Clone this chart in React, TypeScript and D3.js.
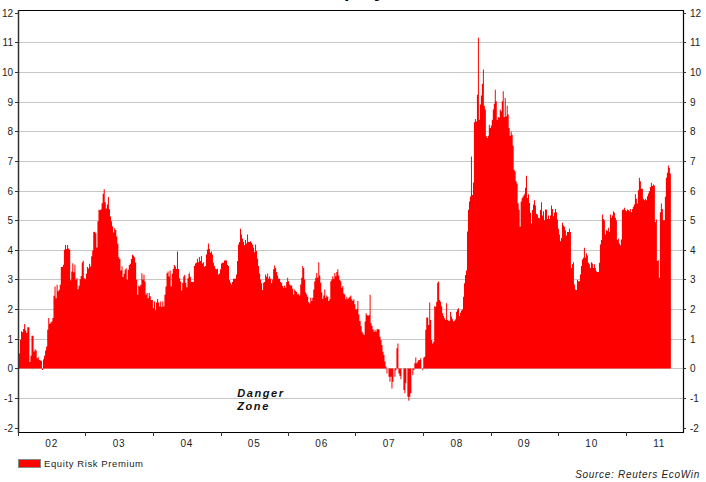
import React from "react";
import * as d3 from "d3";

// ---------------- DATA ----------------
// Equity risk premium observations, in four consecutive stretches.
const segA_range = ["2002-01-06", "2004-07-17"];
const segA_values = [
  0.5, 0.97, 1.25, 1.22, 1.33, 1.5, 1.28, 1.19, 1.39, 1.39,
  0.22, 0.43, 1.1, 1.1, 0.57, 0.65, 0.6, 0.34, 0.38, 0.29,
  0.27, 0.25, -0.05, 0.31, 0.43, 0.6, 0.74, 1.3, 1.7, 1.5,
  1.55, 1.58, 1.7, 2.45, 2.76, 2.37, 2.82, 2.6, 2.65, 2.82,
  3.42, 3.42, 3.5, 4.0, 4.16, 4.03, 4.16, 4.04, 4.0, 2.97,
  3.27, 3.55, 3.24, 3.5, 2.99, 3.04, 2.67, 2.79, 3.01, 3.12,
  3.57, 3.63, 3.04, 3.01, 3.19, 3.42, 3.37, 3.53, 3.44, 3.78,
  3.98, 4.6, 4.61, 4.56, 4.08, 4.96, 5.35, 5.33, 5.37, 5.57,
  5.89, 6.04, 5.6, 5.39, 5.53, 5.78, 5.37, 5.12, 4.96, 4.79,
  4.58, 4.73, 4.67, 4.45, 4.2, 3.75, 3.69, 3.3, 3.44, 3.08,
  3.19, 3.33, 3.38, 2.99, 3.33, 3.49, 3.53, 3.69, 3.83, 3.8,
  3.75, 3.57, 2.99, 2.48, 2.79, 2.76, 2.82, 3.21, 2.99, 3.16,
  2.93, 2.48, 2.54, 2.37, 2.54, 2.43, 2.31, 2.31, 2.03, 2.26,
  1.96, 2.22, 2.34, 2.22, 2.09, 2.26, 2.07, 2.26, 2.09, 2.48,
  2.76, 3.21, 3.27, 3.1, 3.3, 2.76, 3.19, 3.35, 3.49, 3.44,
  3.35, 3.94, 3.35, 3.04, 2.93, 2.63, 2.88, 3.1, 3.16, 2.88,
  2.74, 3.04, 3.19, 3.27,
];

const segB_range = ["2004-07-19", "2007-01-22"];
const segB_values = [
  3.09, 2.91, 2.91, 2.91, 3.45, 3.54, 3.56, 3.7, 3.58, 3.76,
  3.62, 3.79, 3.54, 3.58, 3.43, 3.45, 3.84, 4.01, 4.21, 4.03,
  3.9, 3.94, 3.84, 3.56, 3.45, 3.36, 3.34, 3.36, 3.17, 3.2,
  3.34, 3.54, 3.56, 3.56, 3.64, 3.65, 3.64, 3.5, 3.45, 2.98,
  2.89, 2.83, 2.91, 3.02, 3.02, 3.02, 3.17, 3.62, 4.18, 4.26,
  4.71, 4.52, 4.37, 4.26, 4.15, 4.33, 4.21, 4.52, 4.26, 4.26,
  4.29, 4.24, 4.18, 4.07, 3.92, 4.18, 3.96, 3.7, 3.45, 3.2,
  3.0, 2.87, 2.64, 2.89, 2.91, 3.17, 3.09, 3.2, 3.02, 3.11,
  3.02, 2.87, 3.0, 3.34, 3.47, 3.39, 3.25, 3.13, 3.02, 3.02,
  2.91, 2.87, 2.78, 2.72, 2.8, 2.72, 2.91, 3.06, 2.94, 2.83,
  2.8, 2.8, 2.69, 2.49, 2.66, 2.61, 2.58, 2.49, 2.52, 2.46,
  2.83, 3.06, 3.45, 3.39, 3.0, 2.57, 2.49, 2.42, 2.24, 2.19,
  2.38, 2.27, 2.38, 2.66, 2.94, 3.06, 3.22, 3.06, 3.58, 3.13,
  2.89, 2.57, 2.35, 2.46, 2.66, 2.38, 2.46, 2.42, 2.27, 2.33,
  2.94, 3.0, 3.11, 3.02, 3.22, 3.11, 3.25, 3.34, 3.13, 2.98,
  2.94, 2.72, 2.78, 2.53, 2.49, 2.33, 2.42, 2.33, 2.38, 2.42,
  2.46, 2.33, 2.27, 2.33, 2.16, 1.99, 2.0, 2.27, 1.82, 1.6,
];

const segC_range = ["2007-01-29", "2009-07-04"];
const segC_values = [
  1.43, 1.24, 1.18, 1.13, 1.58, 1.86, 1.8, 1.77, 1.8, 2.48,
  1.52, 1.43, 1.32, 1.24, 1.3, 1.24, 1.32, 1.32, 1.32, 1.07,
  0.96, 0.79, 0.56, 0.45, 0.23, 0.06, -0.17, 0.0, -0.28, -0.45,
  -0.28, -0.68, -0.45, 0.0, -0.28, -0.06, 0.68, 0.84, -0.17, -0.26,
  -0.37, 0.0, 0.0, -0.73, -0.84, -0.5, 0.0, -0.96, -1.09, -0.96,
  -0.84, 0.0, -0.23, -0.06, 0.17, 0.37, 0.17, 0.23, 0.28, 0.28,
  0.34, 0.0, -0.06, 0.37, 0.39, 1.3, 1.72, 1.72, 1.46, 2.22,
  1.63, 0.96, 0.84, 0.9, 2.1, 2.08, 2.25, 2.89, 2.93, 2.31,
  2.25, 2.1, 1.86, 1.77, 1.69, 1.63, 2.2, 1.63, 1.61, 1.61,
  1.91, 1.75, 1.66, 1.58, 1.61, 1.66, 1.91, 1.99, 2.03, 1.77,
  1.88, 1.95, 1.99, 2.42, 2.87, 3.15, 3.3, 4.62, 5.35, 5.63,
  5.8, 7.15, 5.85, 6.27, 8.3, 8.41, 8.33, 9.23, 11.15, 8.39,
  8.9, 9.2, 9.6, 10.08, 8.86, 8.73, 7.83, 7.77, 7.85, 8.22,
  8.11, 8.19, 8.39, 8.73, 8.93, 9.4, 9.01, 8.39, 8.48, 8.45,
  8.73, 8.67, 9.01, 9.35, 8.48, 9.12, 8.5, 8.86, 8.56, 8.11,
  7.85, 7.99, 7.88, 7.51, 6.7, 6.64, 6.31, 6.23, 5.57, 5.35,
  4.79, 5.63, 5.74, 5.8, 5.86, 5.9,
];

const segD_range = ["2009-07-06", "2011-08-29"];
const segD_values = [
  6.09, 6.5, 5.75, 5.87, 5.58, 5.25, 4.89, 5.34, 5.53, 5.67,
  5.49, 5.22, 5.19, 5.08, 5.06, 5.34, 5.6, 5.16, 5.3, 5.0,
  5.36, 5.36, 5.04, 5.16, 5.04, 5.16, 5.49, 5.38, 5.13, 5.25,
  5.38, 5.27, 5.02, 4.71, 4.52, 4.29, 4.4, 4.91, 4.82, 4.78,
  4.66, 4.48, 4.6, 4.6, 4.71, 4.6, 3.39, 3.51, 3.58, 2.83,
  2.66, 2.64, 2.98, 2.94, 2.94, 3.17, 3.45, 3.67, 3.73, 4.07,
  3.73, 3.88, 3.81, 3.56, 3.51, 3.39, 3.58, 3.54, 3.39, 3.51,
  3.39, 3.28, 3.25, 3.25, 3.56, 4.18, 4.33, 5.19, 5.04, 5.0,
  4.52, 4.66, 4.63, 4.74, 4.6, 5.19, 5.08, 5.16, 5.3, 5.25,
  5.08, 5.0, 4.33, 4.37, 4.21, 4.15, 4.35, 5.34, 5.36, 5.42,
  5.34, 5.3, 5.36, 5.34, 5.3, 5.38, 5.27, 5.38, 5.45, 5.53,
  5.87, 5.72, 5.56, 6.01, 6.43, 6.31, 6.06, 6.06, 5.72, 5.67,
  5.72, 5.67, 5.81, 5.9, 5.98, 6.12, 6.26, 6.15, 6.2, 6.17,
  4.93, 5.02, 3.62, 3.65, 3.06, 5.27, 5.56, 5.38, 5.0, 5.0,
  5.79, 6.43, 6.6, 6.84, 6.76, 6.57,
];

const yTicks = [-2, -1, 0, 1, 2, 3, 4, 5, 6, 7, 8, 9, 10, 11, 12];
const yearLabels = ["02", "03", "04", "05", "06", "07", "08", "09", "10", "11"];
const axisDomain = ["2002-01-01", "2011-11-08"];
const seriesName = "Equity Risk Premium";
const titleText = "Equity Risk Premium";
const sourceText = "Source: Reuters EcoWin";
const annotation = ["Danger", "Zone"];
const annotationAt = { date: "2005-04-01", value: -0.97 };

// ---------------- helpers ----------------
const parse = d3.timeParse("%Y-%m-%d");
type Pt = { date: Date; value: number };

function expand(range: string[], values: number[]): Pt[] {
  const s = parse(range[0])!.getTime();
  const e = parse(range[1])!.getTime();
  const n = values.length;
  return values.map((v, i) => ({
    date: new Date(s + ((e - s) * i) / (n - 1)),
    value: v,
  }));
}

const W = 706;
const H = 482;
const M = { left: 18, right: 683, top: 10, bottom: 432 };
const FONT = "Arial, 'Liberation Sans', Helvetica, sans-serif";

export default function App() {
  const data: Pt[] = [
    ...expand(segA_range, segA_values),
    ...expand(segB_range, segB_values),
    ...expand(segC_range, segC_values),
    ...expand(segD_range, segD_values),
  ];
  const last = data[data.length - 1];
  const prev = data[data.length - 2];
  const stepData = [
    ...data,
    { date: new Date(last.date.getTime() + (last.date.getTime() - prev.date.getTime())), value: last.value },
  ];

  const x = d3
    .scaleTime()
    .domain([parse(axisDomain[0])!, parse(axisDomain[1])!])
    .range([M.left, M.right]);
  const y = d3.scaleLinear().domain([-2, 12]).range([427.7, 12.6]);

  const area = d3
    .area<Pt>()
    .x((d) => x(d.date))
    .y0(y(0))
    .y1((d) => y(d.value))
    .curve(d3.curveStepAfter);

  const years = d3.range(2002, 2012);
  const yearStarts = years.map((yr) => new Date(yr, 0, 1));
  const ax = x(parse(annotationAt.date)!);

  return (
    <svg
      width={W}
      height={H}
      style={{ position: "absolute", left: 0, top: 0, background: "#fff" }}
      fontFamily={FONT}
    >
      <rect x={0} y={0} width={W} height={H} fill="#fff" />
      {/* title, cropped off the top as in the reference */}
      <text x={324} y={-3} fontSize={20} fontWeight="bold" fill="#000">
        {titleText}
      </text>

      {/* gridlines */}
      {yTicks
        .filter((t) => t > -2 && t < 12)
        .map((t) => (
          <line
            key={"g" + t}
            x1={M.left}
            x2={M.right}
            y1={Math.round(y(t)) + 0.5}
            y2={Math.round(y(t)) + 0.5}
            stroke="#c6c6c6"
            strokeWidth={1}
          />
        ))}

      {/* area */}
      <path d={area(stepData) || ""} fill="#ff0000" stroke="none" />

      {/* frame */}
      <line x1={M.left} x2={M.right} y1={M.top + 0.5} y2={M.top + 0.5} stroke="#000" strokeWidth={1} />
      <line x1={M.left} x2={M.right} y1={M.bottom + 0.5} y2={M.bottom + 0.5} stroke="#000" strokeWidth={1.2} />
      <line x1={M.left + 0.5} x2={M.left + 0.5} y1={M.top} y2={M.bottom + 1} stroke="#333" strokeWidth={1.5} />
      <line x1={M.right + 0.5} x2={M.right + 0.5} y1={M.top} y2={M.bottom + 1} stroke="#000" strokeWidth={1.2} />

      {/* y ticks both sides */}
      {yTicks.map((t) => {
        const yy = Math.round(y(t)) + 0.5;
        return (
          <g key={"t" + t}>
            <line x1={M.left - 3} x2={M.left} y1={yy} y2={yy} stroke="#333" />
            <line x1={M.right} x2={M.right + 3} y1={yy} y2={yy} stroke="#333" />
            <text x={M.left - 5} y={yy} dy="0.35em" textAnchor="end" fontSize={10} fill="#222">
              {t}
            </text>
            <text x={M.right + 7} y={yy} dy="0.35em" textAnchor="start" fontSize={10} fill="#222">
              {t}
            </text>
          </g>
        );
      })}

      {/* x ticks */}
      {yearStarts.map((d, i) => (
        <line
          key={"xt" + i}
          x1={Math.round(x(d)) + 0.5}
          x2={Math.round(x(d)) + 0.5}
          y1={M.bottom}
          y2={M.bottom + 4}
          stroke="#333"
        />
      ))}
      {years.map((yr, i) => {
        const mid = new Date(yr, 6, 2);
        return (
          <text
            key={"xl" + i}
            x={x(mid)}
            y={447}
            textAnchor="middle"
            fontSize={10}
            fill="#222"
            letterSpacing={0.8}
          >
            {yearLabels[i]}
          </text>
        );
      })}

      {/* annotation */}
      <text
        x={ax}
        y={y(annotationAt.value)}
        fontSize={11}
        fontWeight="bold"
        fontStyle="italic"
        letterSpacing={1.6}
        fill="#111"
      >
        <tspan x={ax}>{annotation[0]}</tspan>
        <tspan x={ax} dy={13}>
          {annotation[1]}
        </tspan>
      </text>

      {/* legend */}
      <rect x={18.5} y={459.5} width={22} height={8} fill="#ff0000" stroke="#888" strokeWidth={1} />
      <text x={44} y={467} fontSize={9.5} fill="#222" letterSpacing={0.6}>
        {seriesName}
      </text>

      {/* source */}
      <text x={700} y={478} textAnchor="end" fontSize={10} fontStyle="italic" fill="#222" letterSpacing={0.7}>
        {sourceText}
      </text>
    </svg>
  );
}
